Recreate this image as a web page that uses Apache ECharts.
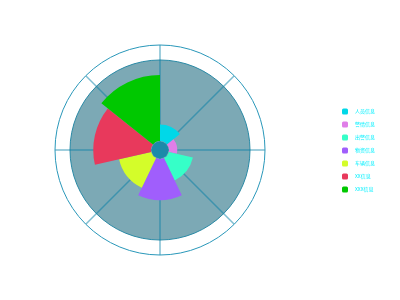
<!DOCTYPE html>
<html>
<head>
<meta charset="utf-8">
<script src="https://cdn.jsdelivr.net/npm/echarts@6/dist/echarts.min.js"></script>
<style>html,body{margin:0;padding:0;background:#fff;}#main{width:400px;height:300px;}</style>
</head>
<body>
<div id="main"></div>
<script>
const categories = ['人员信息', '警情信息', '出警信息', '物资信息', '车辆信息', 'XX信息', 'XXX信息'];
const values = [10, 5, 15, 25, 20, 35, 40];
const colors = ['#00d8e8', '#e07ee8', '#36ffc8', '#a05efc', '#d4fd2a', '#e8395c', '#00c800'];

const chart = echarts.init(document.getElementById('main'), null, {renderer: 'canvas'});
chart.setOption({
  animation: false,
  backgroundColor: '#ffffff',
  legend: {
    orient: 'vertical',
    left: 342,
    top: 108.5,
    padding: 0,
    itemWidth: 6,
    itemHeight: 6,
    itemGap: 7,
    icon: 'roundRect',
    data: categories,
    textStyle: { color: '#00f0ff', fontSize: 5, padding: [0, 0, 0, 2], fontFamily: 'Noto Sans CJK SC' }
  },
  polar: { center: [160, 150], radius: 105 },
  angleAxis: {
    type: 'value', min: 0, max: 360, interval: 45, startAngle: 90, z: 2,
    axisLine: { show: true, lineStyle: { color: '#2a98ba', width: 1 } },
    axisTick: { show: false },
    axisLabel: { show: false },
    splitLine: { show: true, lineStyle: { color: 'rgba(0,125,165,0.5)', width: 1.5 } }
  },
  radiusAxis: { show: false, min: 0, max: 1 },
  series: [
    {
      type: 'pie', z: 1, silent: true, center: [160, 150], radius: [0, 90],
      label: { show: false }, labelLine: { show: false },
      itemStyle: { color: '#7ca9b5', borderColor: '#2a8aa6', borderWidth: 1 },
      data: [{ value: 1, name: 'bg' }]
    },
    {
      type: 'pie', z: 3, roseType: 'area', center: [160, 150], radius: [9, 75],
      startAngle: 90, clockwise: true,
      label: { show: false }, labelLine: { show: false },
      data: categories.map((c, i) => ({ name: c, value: values[i], itemStyle: { color: colors[i] } }))
    },
    {
      type: 'pie', z: 4, silent: true, center: [160, 150], radius: [0, 8.5],
      label: { show: false }, labelLine: { show: false },
      itemStyle: { color: '#1c8aa9' },
      data: [{ value: 1, name: 'center' }]
    }
  ]
});
</script>
</body>
</html>
